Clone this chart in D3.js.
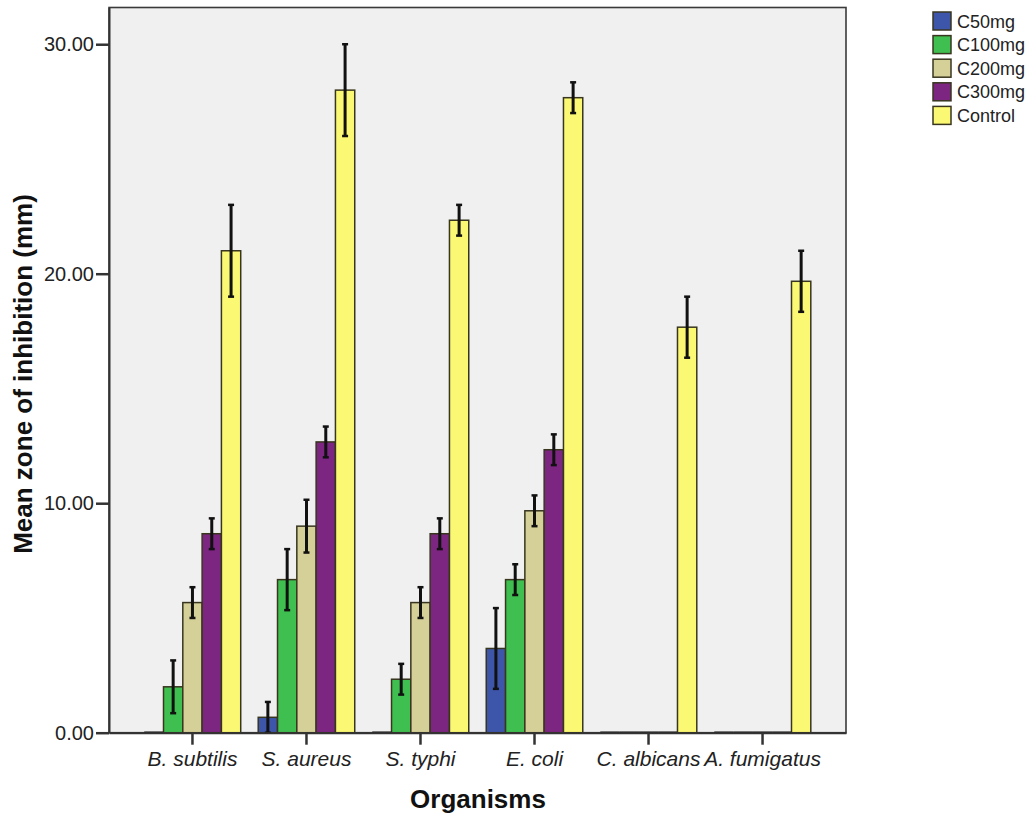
<!DOCTYPE html>
<html>
<head>
<meta charset="utf-8">
<script src="https://cdn.jsdelivr.net/npm/d3@7"></script>
<style>
  html, body { margin: 0; padding: 0; background: #ffffff; }
  svg { display: block; }
  text { font-family: "Liberation Sans", Arial, sans-serif; }
</style>
</head>
<body>
<svg id="chart" width="1034" height="815"></svg>
<script>
// ---- data ----
const categories = ["B. subtilis", "S. aureus", "S. typhi", "E. coli", "C. albicans", "A. fumigatus"];
const seriesNames = ["C50mg", "C100mg", "C200mg", "C300mg", "Control"];
const c50 = [0, 0.67, 0, 3.67, 0, 0];
const c50Err = [0, 0.67, 0, 1.76, 0, 0];
const c100 = [2.0, 6.67, 2.33, 6.67, 0, 0];
const c100Err = [1.15, 1.33, 0.67, 0.67, 0, 0];
const c200 = [5.67, 9.0, 5.67, 9.67, 0, 0];
const c200Err = [0.67, 1.15, 0.67, 0.67, 0, 0];
const c300 = [8.67, 12.67, 8.67, 12.33, 0, 0];
const c300Err = [0.67, 0.67, 0.67, 0.67, 0, 0];
const control = [21.0, 28.0, 22.33, 27.67, 17.67, 19.67];
const controlErr = [2.0, 2.0, 0.67, 0.67, 1.33, 1.33];
const yTicks = [0, 10, 20, 30];
const yTitle = "Mean zone of inhibition (mm)";
const xTitle = "Organisms";

const seriesValues = [c50, c100, c200, c300, control];
const seriesErrors = [c50Err, c100Err, c200Err, c300Err, controlErr];
const colors = ["#3d56aa", "#3fbf4f", "#d5cf98", "#7c2581", "#fbf873"];

// ---- layout ----
const plot = { left: 109, right: 846, top: 7.5, bottom: 732.7 };
const svg = d3.select("#chart");

const x = d3.scaleBand().domain(categories).range([plot.left, plot.right])
  .paddingInner(0).paddingOuter(0.232);
const xs = d3.scaleBand().domain(seriesNames).range([0, x.bandwidth()])
  .paddingInner(0).paddingOuter(0.453);
const y = d3.scaleLinear().domain([0, 31.6]).range([plot.bottom, plot.top]);
const color = d3.scaleOrdinal().domain(seriesNames).range(colors);

// background
svg.append("rect")
  .attr("x", plot.left).attr("y", plot.top)
  .attr("width", plot.right - plot.left).attr("height", plot.bottom - plot.top)
  .attr("fill", "#f0f0f0").attr("stroke", "#3a3a3a").attr("stroke-width", 1.6);

// flatten data
const rows = [];
categories.forEach((c, i) => {
  seriesNames.forEach((s, j) => {
    rows.push({ cat: c, ser: s, v: seriesValues[j][i], e: seriesErrors[j][i] });
  });
});

const g = svg.append("g");
g.selectAll("rect.bar").data(rows.filter(d => d.v > 0)).join("rect")
  .attr("class", "bar")
  .attr("x", d => x(d.cat) + xs(d.ser))
  .attr("y", d => y(d.v))
  .attr("width", xs.bandwidth())
  .attr("height", d => y(0) - y(d.v))
  .attr("fill", d => color(d.ser))
  .attr("stroke", "#38361f").attr("stroke-width", 1.5);

// zero bars as flat lines
g.selectAll("line.zero").data(rows.filter(d => d.v === 0)).join("line")
  .attr("class", "zero")
  .attr("x1", d => x(d.cat) + xs(d.ser))
  .attr("x2", d => x(d.cat) + xs(d.ser) + xs.bandwidth())
  .attr("y1", y(0)).attr("y2", y(0))
  .attr("stroke", "#222").attr("stroke-width", 2.5);

// error bars
const eb = g.selectAll("g.err").data(rows.filter(d => d.e > 0)).join("g").attr("class", "err");
const cx = d => x(d.cat) + xs(d.ser) + xs.bandwidth() / 2;
eb.append("line")
  .attr("x1", cx).attr("x2", cx)
  .attr("y1", d => y(d.v + d.e)).attr("y2", d => y(d.v - d.e))
  .attr("stroke", "#111").attr("stroke-width", 3);
eb.append("line")
  .attr("x1", d => cx(d) - 3).attr("x2", d => cx(d) + 3)
  .attr("y1", d => y(d.v + d.e)).attr("y2", d => y(d.v + d.e))
  .attr("stroke", "#111").attr("stroke-width", 2.5);
eb.append("line")
  .attr("x1", d => cx(d) - 3).attr("x2", d => cx(d) + 3)
  .attr("y1", d => y(d.v - d.e)).attr("y2", d => y(d.v - d.e))
  .attr("stroke", "#111").attr("stroke-width", 2.5);

// axes
const yAxis = svg.append("g")
  .attr("transform", `translate(${plot.left},0)`)
  .call(d3.axisLeft(y).tickValues(yTicks).tickFormat(d3.format(".2f"))
    .tickSizeInner(13).tickSizeOuter(0).tickPadding(2));
yAxis.select(".domain").attr("stroke", "#333").attr("stroke-width", 2);
yAxis.selectAll(".tick line").attr("stroke", "#333").attr("stroke-width", 2.5);
yAxis.selectAll(".tick text").attr("font-size", 20).attr("fill", "#222")
  .attr("font-family", "Liberation Sans, Arial, sans-serif");

const xAxis = svg.append("g")
  .attr("transform", `translate(0,${plot.bottom})`)
  .call(d3.axisBottom(x).tickSizeInner(12).tickSizeOuter(0).tickPadding(6));
xAxis.select(".domain").attr("stroke", "#333").attr("stroke-width", 2);
xAxis.selectAll(".tick line").attr("stroke", "#333").attr("stroke-width", 2.5);
xAxis.selectAll(".tick text").attr("font-size", 21).attr("font-style", "italic").attr("fill", "#222")
  .attr("font-family", "Liberation Sans, Arial, sans-serif");

// titles
svg.append("text")
  .attr("transform", "translate(32,374) rotate(-90)")
  .attr("text-anchor", "middle")
  .attr("font-size", 26).attr("font-weight", "bold").attr("fill", "#111")
  .text(yTitle);
svg.append("text")
  .attr("x", 478).attr("y", 808)
  .attr("text-anchor", "middle")
  .attr("font-size", 26).attr("font-weight", "bold").attr("fill", "#111")
  .text(xTitle);

// legend
const leg = svg.append("g");
const legItems = leg.selectAll("g").data(seriesNames).join("g")
  .attr("transform", (d, i) => `translate(933,${12 + i * 23.6})`);
legItems.append("rect")
  .attr("width", 18).attr("height", 18)
  .attr("fill", d => color(d)).attr("stroke", "#38361f").attr("stroke-width", 1.5);
legItems.append("text")
  .attr("x", 24).attr("y", 15.5)
  .attr("font-size", 18).attr("fill", "#222")
  .text(d => d);
</script>
</body>
</html>
